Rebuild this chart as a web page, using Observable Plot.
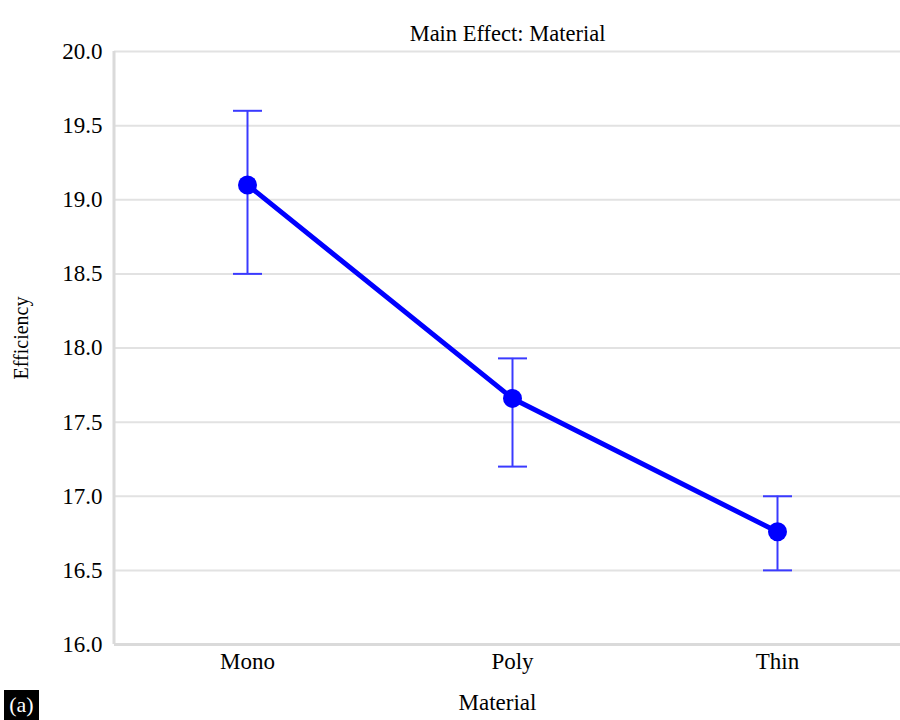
<!DOCTYPE html>
<html>
<head>
<meta charset="utf-8">
<script src="https://cdn.jsdelivr.net/npm/d3@7"></script>
<script src="https://cdn.jsdelivr.net/npm/@observablehq/plot@0.6"></script>
<style>
  html, body { margin: 0; padding: 0; background: #fff; }
  #wrap { position: relative; width: 900px; height: 720px; font-family: "Liberation Serif", "Times New Roman", serif; }
  #tag { position: absolute; left: 4px; top: 690px; width: 35px; height: 30px; background: #000; color: #fff;
         font-size: 22px; line-height: 30px; text-align: center; }
  svg { display: block; }
</style>
</head>
<body>
<div id="wrap"><div id="tag">(a)</div></div>
<script>
const materials = ["Mono", "Poly", "Thin"];
const means = [19.1, 17.66, 16.76];
const lower = [18.5, 17.2, 16.5];
const upper = [19.6, 17.93, 17.0];
const yTicks = [16.0, 16.5, 17.0, 17.5, 18.0, 18.5, 19.0, 19.5, 20.0];
const title = "Main Effect: Material";
const xLabel = "Material";
const yLabel = "Efficiency";

const data = materials.map((m, i) => ({material: m, mean: means[i], lo: lower[i], hi: upper[i]}));

const blue = "#0000ff";
const errBlue = "#3a3aff";

// horizontal cap symbol for error bars
const capSymbol = {draw(context) { context.moveTo(-14.5, 0); context.lineTo(14.5, 0); }};

const leftLine = (index, scales, values, dims) => {
  const l = document.createElementNS("http://www.w3.org/2000/svg", "line");
  l.setAttribute("x1", dims.marginLeft);
  l.setAttribute("x2", dims.marginLeft);
  l.setAttribute("y1", dims.marginTop);
  l.setAttribute("y2", dims.height - dims.marginBottom);
  l.setAttribute("stroke", "#dadada");
  l.setAttribute("stroke-width", 3);
  return l;
};

const chart = Plot.plot({
  width: 900,
  height: 720,
  marginLeft: 114,
  marginRight: 0,
  marginTop: 51,
  marginBottom: 76,
  style: {fontFamily: "'Liberation Serif', 'Times New Roman', serif", fontSize: "22px", background: "#fff"},
  x: {type: "point", domain: materials, range: [246.5, 777.6], padding: 0, label: null},
  y: {domain: [16, 20], label: null},
  marks: [
    Plot.gridY(yTicks, {stroke: "#e2e2e2", strokeWidth: 2, strokeOpacity: 1}),
    Plot.ruleY([16], {stroke: "#dadada", strokeWidth: 3}),
    leftLine,
    Plot.axisY(yTicks, {tickSize: 0, tickPadding: 12, tickFormat: d => d.toFixed(1), fontSize: 23, fill: "#000"}),
    Plot.axisX({tickSize: 0, tickPadding: 8, fontSize: 23, fill: "#000"}),
    Plot.ruleX(data, {x: "material", y1: "lo", y2: "hi", stroke: errBlue, strokeWidth: 2}),
    Plot.dot(data, {x: "material", y: "hi", symbol: capSymbol, stroke: errBlue, strokeWidth: 2, fill: "none"}),
    Plot.dot(data, {x: "material", y: "lo", symbol: capSymbol, stroke: errBlue, strokeWidth: 2, fill: "none"}),
    Plot.line(data, {x: "material", y: "mean", stroke: blue, strokeWidth: 5}),
    Plot.dot(data, {x: "material", y: "mean", r: 9.5, fill: blue, stroke: null}),
    Plot.text([title], {frameAnchor: "top", dy: -26, fontSize: 22.5, fill: "#000"}),
    Plot.text([xLabel], {frameAnchor: "bottom", dx: -10, dy: 65, fontSize: 23, fill: "#000"}),
    Plot.text([yLabel], {frameAnchor: "left", textAnchor: "middle", dx: -93, dy: -10, rotate: -90, fontSize: 20, fill: "#000"})
  ]
});
document.getElementById("wrap").prepend(chart);
</script>
</body>
</html>
